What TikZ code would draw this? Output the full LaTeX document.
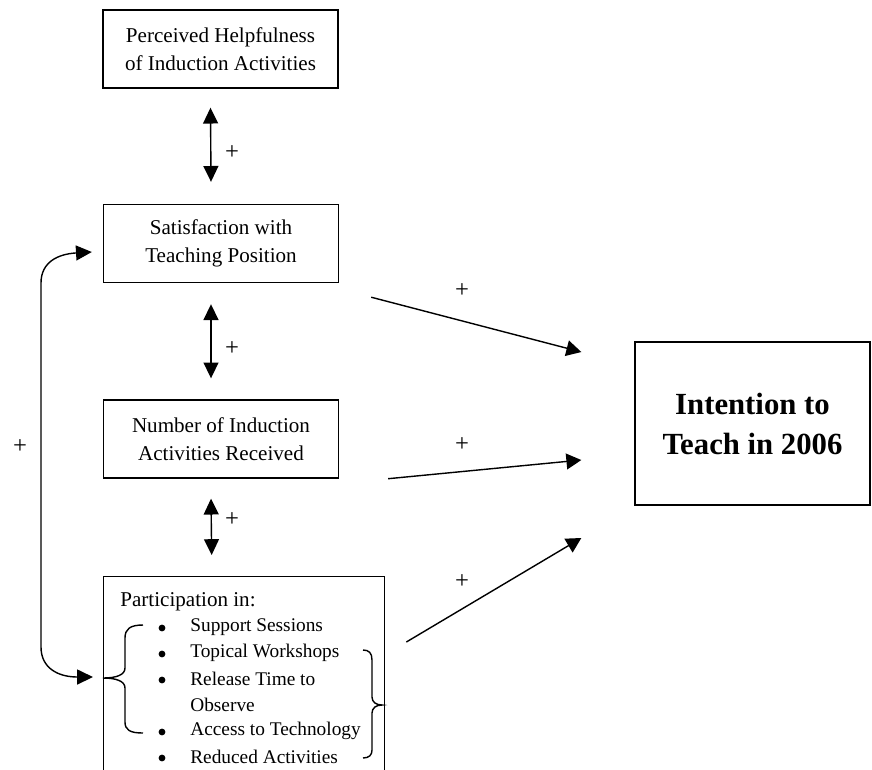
\documentclass[tikz,border=0pt]{standalone}
\usepackage{fontspec}
\setmainfont{Liberation Serif}
\usetikzlibrary{arrows.meta,calc}

\begin{document}
\begin{tikzpicture}[x=0.02cm,y=-0.02cm,
  box/.style={draw,line width=0.8pt,align=center,minimum width=4.7cm,minimum height=1.56cm,inner sep=0pt,font=\fontsize{12}{16}\selectfont},
  twoway/.style={line width=0.8pt,{Triangle[length=9pt,width=8.5pt]}-{Triangle[length=9pt,width=8.5pt]}},
  oneway/.style={line width=0.8pt,-{Triangle[length=8.5pt,width=9pt]}},
  plus/.style={font=\fontsize{14}{16}\selectfont,inner sep=0pt},
  itemtext/.style={anchor=west,inner sep=0pt,font=\fontsize{11}{13}\selectfont}]
\useasboundingbox (0,0) rectangle (872,769);
\clip (0,0) rectangle (872,769);

\node [box] (help) at (220.5,49) {Perceived Helpfulness\\of Induction Activities};
\node [box] (sat) at (221,243.5) {Satisfaction with\\Teaching Position};
\node [box] (num) at (221,439) {Number of Induction\\Activities Received};
\node [draw,line width=0.8pt,anchor=north west,minimum width=5.62cm,minimum height=4.4cm] (part) at (103,576) {};
\node [box,minimum height=3.26cm,font=\fontsize{17.5}{22.8}\selectfont\bfseries] (int) at (752.5,423.5) {Intention to\\Teach in 2006};

% list inside the participation box
\node [anchor=west,inner sep=0pt,font=\fontsize{12}{14}\selectfont] (parttitle) at (120,602) {Participation in:};
\foreach \txt [count=\i] in {Support Sessions,Topical Workshops,Release Time to,Observe,Access to Technology,Reduced Activities}
  \node [itemtext] (item\i) at (190,{601+26*\i}) {\txt};
\foreach \i in {1,2,3,5,6}
  \fill ($(item\i.west)+(-28,1)$) circle (3.4);

% braces
\draw [line width=0.8pt] (143,625) .. controls (130,625) and (125,629) .. (125,638) -- (125,668)
  .. controls (125,675) and (116,678) .. (103,678) .. controls (116,678) and (125,681) .. (125,688)
  -- (125,722) .. controls (125,730) and (130,733) .. (143,733);
\draw [line width=0.8pt] (363,650) .. controls (369,650) and (372,653) .. (372,660) -- (372,697)
  .. controls (372,702) and (376,705) .. (382,705) .. controls (376,705) and (372,708) .. (372,713)
  -- (372,750) .. controls (372,755) and (369,758) .. (363,758);

% links between the boxes
\draw [twoway] ($(help.south)+(-10,19)$) -- ($(sat.north)+(-10,-22)$);
\draw [twoway] ($(sat.south)+(-10,21)$) -- ($(num.north)+(-10,-21)$);
\draw [twoway] ($(num.south)+(-10,20)$) -- ($(part.north)+(-32.5,-21)$);
\node [plus] at (232,153) {+};
\node [plus] at (232,349) {+};
\node [plus] at (232,520) {+};

\draw [twoway] ($(sat.west)+(-11,8.5)$) .. controls (58,254) and (41,262) .. (41,283) -- (41,647)
  .. controls (41,668) and (58,677) .. ($(part.north west)+(-10,101)$);
\node [plus] at (20,447) {+};

\draw [oneway] ($(sat.south east)+(32,14)$) -- ($(int.west)+(-53,-71.5)$);
\draw [oneway] ($(num.south east)+(49,0)$) -- ($(int.west)+(-53,36.5)$);
\draw [oneway] ($(part.north east)+(21,66)$) -- ($(int.west)+(-53,114.5)$);
\node [plus] at (462,291) {+};
\node [plus] at (462,445) {+};
\node [plus] at (462,582) {+};
\end{tikzpicture}
\end{document}
